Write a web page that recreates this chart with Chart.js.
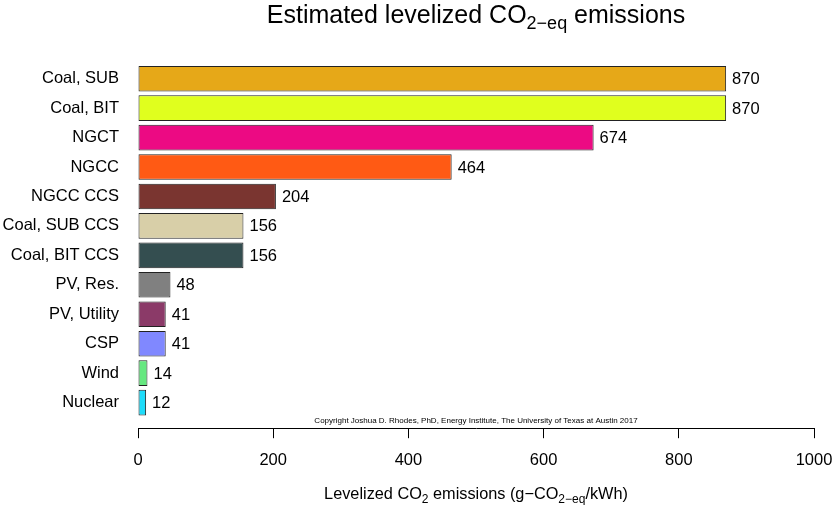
<!DOCTYPE html>
<html>
<head>
<meta charset="utf-8">
<script src="https://cdn.jsdelivr.net/npm/chart.js@4.4.1/dist/chart.umd.min.js"></script>
<style>
    body { margin: 0; background: #fff; }
    #wrap { width: 833px; height: 505px; position: relative; }
</style>
</head>
<body>
<div id="wrap"><canvas id="emissionsChart"></canvas></div>
<script>
// Levelized emissions per technology (g CO2-eq / kWh)
const categories = ['Coal, SUB', 'Coal, BIT', 'NGCT', 'NGCC', 'NGCC CCS', 'Coal, SUB CCS',
    'Coal, BIT CCS', 'PV, Res.', 'PV, Utility', 'CSP', 'Wind', 'Nuclear'];
const emissions = [870, 870, 674, 464, 204, 156, 156, 48, 41, 41, 14, 12];
const barColors = ['#e6a818', '#e0ff1e', '#ec0a83', '#ff5a14', '#7a3530', '#d8cfa8',
    '#344e50', '#808080', '#8b3a68', '#8088ff', '#66e880', '#1edcfa'];
const xTicks = [0, 200, 400, 600, 800, 1000];

const FONT = "'Liberation Sans', Arial, Helvetica, sans-serif";

// draw a line of text with subscripts, centred on cx
function drawRich(ctx, parts, cx, y, size) {
    const subSize = Math.round(size * 0.72);
    let total = 0;
    parts.forEach(p => {
        ctx.font = (p[1] ? subSize : size) + 'px ' + FONT;
        total += ctx.measureText(p[0]).width;
    });
    let x = cx - total / 2;
    ctx.textAlign = 'left';
    ctx.textBaseline = 'alphabetic';
    ctx.fillStyle = '#000';
    parts.forEach(p => {
        ctx.font = (p[1] ? subSize : size) + 'px ' + FONT;
        ctx.fillText(p[0], x, p[1] ? y + size * 0.25 : y);
        x += ctx.measureText(p[0]).width;
    });
}

const annotations = {
    id: 'annotations',
    afterDatasetsDraw(chart) {
        const ctx = chart.ctx;
        const area = chart.chartArea;
        const cx = (area.left + area.right) / 2;
        ctx.save();

        // value labels next to the bars
        ctx.font = '16.5px ' + FONT;
        ctx.fillStyle = '#000';
        ctx.textAlign = 'left';
        ctx.textBaseline = 'middle';
        chart.getDatasetMeta(0).data.forEach((bar, i) => {
            ctx.fillText(String(emissions[i]), bar.x + 6, bar.y + 1);
        });

        // copyright line
        ctx.font = '8px ' + FONT;
        ctx.textAlign = 'center';
        ctx.fillText('Copyright Joshua D. Rhodes, PhD, Energy Institute, The University of Texas at Austin 2017', cx, area.bottom - 7);

        // title
        drawRich(ctx, [['Estimated levelized CO', false], ['2\u2212eq', true], [' emissions', false]], cx, 23, 25);

        // x axis title
        drawRich(ctx, [['Levelized CO', false], ['2', true], [' emissions (g\u2212CO', false], ['2\u2212eq', true], ['/kWh)', false]], cx, 499, 16.3);
        ctx.restore();
    }
};

new Chart(document.getElementById('emissionsChart'), {
    type: 'bar',
    data: {
        datasets: [{
            data: emissions.map((v, i) => ({ x: v, y: i })),
            backgroundColor: barColors,
            borderColor: '#222',
            borderWidth: 1,
            borderSkipped: false,
            barPercentage: 0.87,
            categoryPercentage: 1
        }]
    },
    options: {
        indexAxis: 'y',
        responsive: true,
        maintainAspectRatio: false,
        animation: false,
        layout: { padding: { top: 64, bottom: 23, left: 0, right: 0 } },
        plugins: {
            legend: { display: false },
            tooltip: { enabled: false },
            title: { display: false }
        },
        scales: {
            x: {
                type: 'linear',
                min: 0,
                max: 1000,
                afterBuildTicks: scale => { scale.ticks = xTicks.map(v => ({ value: v })); },
                afterFit: scale => { scale.paddingRight = 19; scale.paddingLeft = 0; },
                grid: { drawOnChartArea: false, drawTicks: true, tickLength: 10, color: '#000' },
                border: { display: true, color: '#000', width: 1 },
                ticks: {
                    color: '#000',
                    font: { family: FONT, size: 16.5 },
                    padding: 12,
                    maxRotation: 0,
                    callback: v => String(v)
                }
            },
            y: {
                type: 'linear',
                reverse: true,
                offset: false,
                min: -0.5,
                max: 11.87,
                afterFit: scale => { scale.width = 138; scale.paddingTop = 0; scale.paddingBottom = 0; },
                grid: { display: false, drawTicks: false, offset: false },
                border: { display: false },
                ticks: {
                    stepSize: 1,
                    includeBounds: false,
                    autoSkip: false,
                    color: '#000',
                    padding: 19,
                    font: { family: FONT, size: 16.5 },
                    callback: v => Number.isInteger(v) ? categories[v] : ''
                }
            }
        }
    },
    plugins: [annotations]
});
</script>
</body>
</html>
